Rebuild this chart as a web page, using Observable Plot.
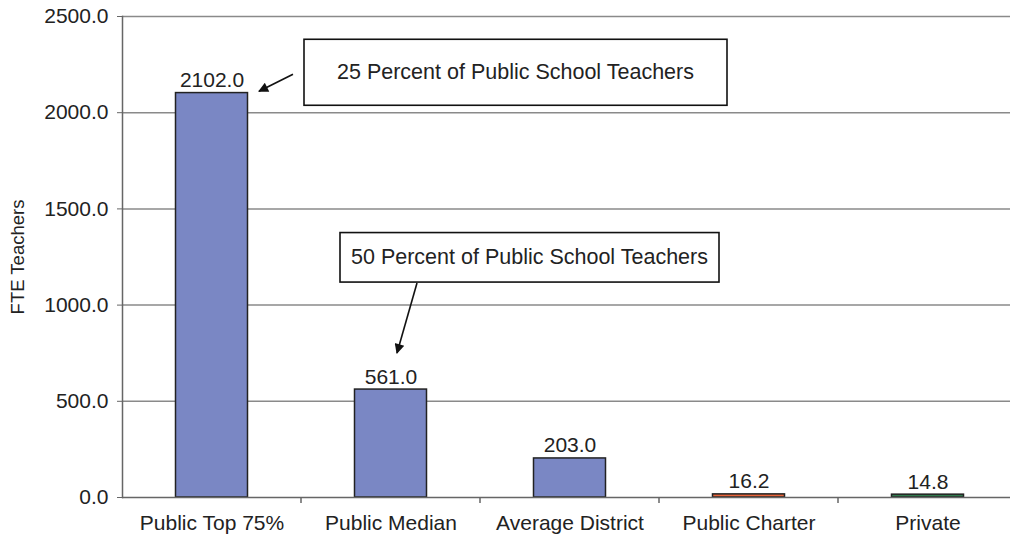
<!DOCTYPE html>
<html>
<head>
<meta charset="utf-8">
<script src="https://cdn.jsdelivr.net/npm/d3@7"></script>
<script src="https://cdn.jsdelivr.net/npm/@observablehq/plot@0.6"></script>
<style>
  html, body { margin: 0; padding: 0; background: #fff; overflow: hidden; }
  #chart svg { display: block; }
</style>
</head>
<body>
<div id="chart"></div>
<script>
// ---- data ----
const categories = ["Public Top 75%", "Public Median", "Average District", "Public Charter", "Private"];
const values = [2102.0, 561.0, 203.0, 16.2, 14.8];
const barColors = ["#7a87c4", "#7a87c4", "#7a87c4", "#e8643a", "#2f7a4c"];
const yTicks = [0, 500, 1000, 1500, 2000, 2500];
const yLabel = "FTE Teachers";
const noteTexts = ["25 Percent of Public School Teachers", "50 Percent of Public School Teachers"];
const noteTargets = ["Public Top 75%", "Public Median"];

const data = categories.map((c, i) => ({category: c, value: values[i], color: barColors[i]}));
const fmt = d3.format(".1f");
const FONT = "'Liberation Sans', Arial, Helvetica, sans-serif";

const chart = Plot.plot({
  width: 1010,
  height: 535,
  marginLeft: 122,
  marginRight: 0,
  marginTop: 16,
  marginBottom: 38,
  style: {fontFamily: FONT, fontSize: "21px", color: "#222", background: "#fff", overflow: "visible"},
  x: {domain: categories, range: [122, 1017], padding: 0, label: null},
  y: {domain: [0, 2500], label: yLabel},
  color: {type: "identity"},
  marks: [
    Plot.gridY(yTicks.slice(1), {stroke: "#8a8a8a", strokeOpacity: 1, strokeWidth: 1.5}),
    Plot.axisY(yTicks, {
      tickFormat: fmt, tickSize: 5, tickPadding: 9, stroke: "#666",
      label: null, fontSize: 21
    }),
    Plot.axisX({tickSize: 0, tickPadding: 18, label: null, fontSize: 21}),
    Plot.barY(data, {
      x: "category", y: "value", fill: "color",
      stroke: "#222", strokeWidth: 1.5, insetLeft: 53.5, insetRight: 53.5
    }),
    Plot.frame({anchor: "left", stroke: "#666", strokeWidth: 1.5}),
    Plot.ruleY([0], {stroke: "#666", strokeWidth: 1.5}),
    Plot.text(data, {
      x: "category", y: "value", text: d => fmt(d.value),
      dy: -6, lineAnchor: "bottom", fontSize: 21, fill: "#222"
    }),
    Plot.text([yLabel], {
      frameAnchor: "left", text: d => d, rotate: -90, dx: -104,
      fontSize: 18.5, fill: "#222", textAnchor: "middle"
    })
  ]
});

document.getElementById("chart").appendChild(chart);

// ---- overlay: category boundary ticks and annotations, positioned from the scales ----
const svg = d3.select(chart);
const xs = chart.scale("x");
const ys = chart.scale("y");
const bw = xs.bandwidth;
const y0 = ys.apply(0);

const g = svg.append("g");
categories.slice(1).forEach(c => {
  const x = xs.apply(c);
  g.append("line").attr("x1", x).attr("x2", x).attr("y1", y0).attr("y2", y0 + 6)
    .attr("stroke", "#666").attr("stroke-width", 1.5);
});

svg.append("defs").append("marker")
  .attr("id", "ah").attr("viewBox", "0 0 10 10").attr("refX", 9).attr("refY", 5)
  .attr("markerWidth", 13).attr("markerHeight", 10).attr("markerUnits", "userSpaceOnUse")
  .attr("orient", "auto")
  .append("path").attr("d", "M0,0 L10,5 L0,10 z").attr("fill", "#111");

// layout of each note relative to its target bar (top centre)
const noteLayout = [
  {box: [304 - 211.5, 39 - 92.3, 423, 66], arrow: [293 - 211.5, 74 - 92.3, 259 - 211.5, 91 - 92.3]},
  {box: [340 - 390.5, 232.5 - 389, 379, 49.5], arrow: [417 - 390.5, 283 - 389, 397 - 390.5, 353 - 389]}
];

noteTexts.forEach((t, i) => {
  const c = noteTargets[i];
  const v = values[categories.indexOf(c)];
  const cx = xs.apply(c) + bw / 2;
  const cy = ys.apply(v);
  const L = noteLayout[i];
  const [bx, by, w, h] = L.box;
  g.append("rect").attr("x", cx + bx).attr("y", cy + by).attr("width", w).attr("height", h)
    .attr("fill", "#fff").attr("stroke", "#111").attr("stroke-width", 1.6);
  g.append("text").attr("x", cx + bx + w / 2).attr("y", cy + by + h / 2)
    .attr("text-anchor", "middle").attr("dominant-baseline", "central")
    .attr("font-family", FONT).attr("font-size", 21.5).attr("fill", "#222").text(t);
  const [ax1, ay1, ax2, ay2] = L.arrow;
  g.append("line").attr("x1", cx + ax1).attr("y1", cy + ay1).attr("x2", cx + ax2).attr("y2", cy + ay2)
    .attr("stroke", "#111").attr("stroke-width", 1.6).attr("marker-end", "url(#ah)");
});
</script>
</body>
</html>
